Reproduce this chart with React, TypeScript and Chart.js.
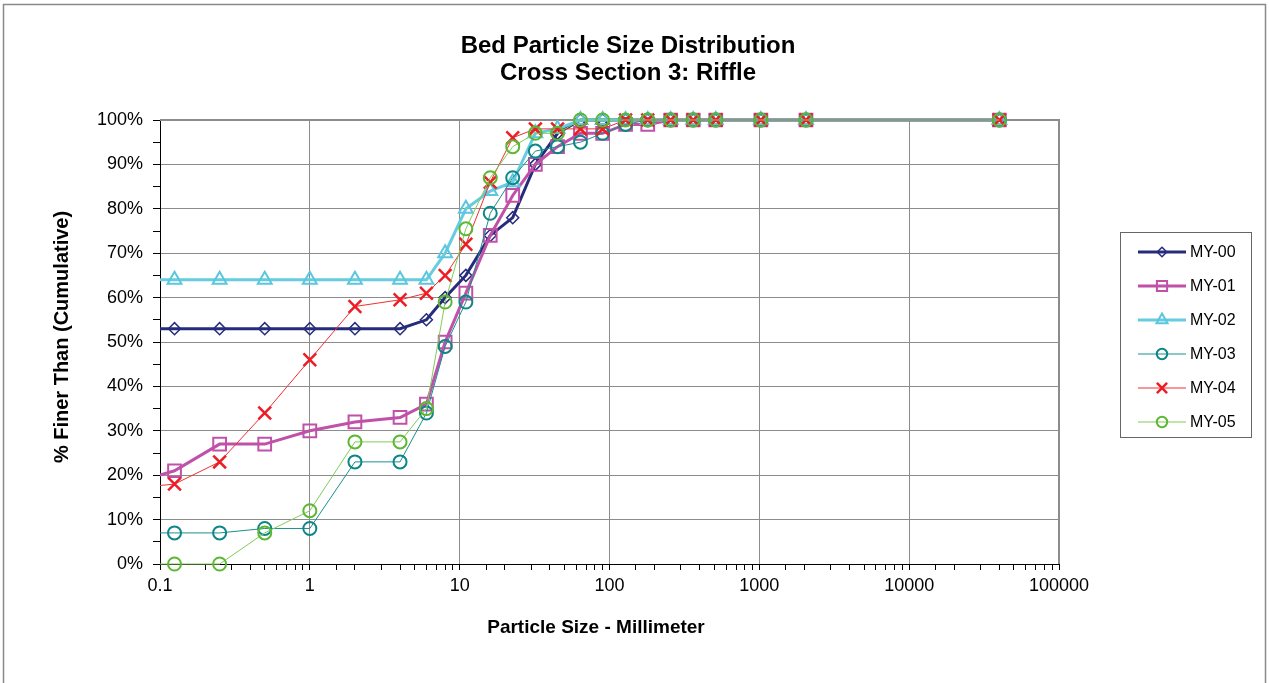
import { useEffect, useRef } from 'react';
import { Chart, registerables } from 'chart.js';

Chart.register(...registerables);

// Particle sizes (mm)
const sizesMm = [0.062, 0.125, 0.25, 0.5, 1, 2, 4, 6, 8, 11, 16, 22.6, 32, 45, 64, 90, 128, 180, 256, 362, 512, 1024, 2048, 40000];

// Cumulative % finer than
const my00 = [53, 53, 53, 53, 53, 53, 53, 55, 60, 65, 74, 78, 90, 97, 100, 100, 100, 100, 100, 100, 100, 100, 100, 100];
const my01 = [18, 21, 27, 27, 30, 32, 33, 36, 50, 61, 74, 83, 90, 94, 97, 97, 99, 99, 100, 100, 100, 100, 100, 100];
const my02 = [64, 64, 64, 64, 64, 64, 64, 64, 70, 80, 84, 86, 97, 98, 100, 100, 100, 100, 100, 100, 100, 100, 100, 100];
const my03 = [7, 7, 7, 8, 8, 23, 23, 34, 49, 59, 79, 87, 93, 94, 95, 97, 99, 100, 100, 100, 100, 100, 100, 100];
const my04 = [17, 18, 23, 34, 46, 58, 59.5, 61, 65, 72, 86, 96, 98, 98, 98, 98, 100, 100, 100, 100, 100, 100, 100, 100];
const my05 = [0, 0, 0, 7, 12, 27.5, 27.5, 35, 59, 75.5, 87, 94, 97, 97, 100, 100, 100, 100, 100, 100, 100, 100, 100, 100];

const seriesLabels = ['MY-00', 'MY-01', 'MY-02', 'MY-03', 'MY-04', 'MY-05'];
const seriesValues = [my00, my01, my02, my03, my04, my05];

const titleLines = ['Bed Particle Size Distribution', 'Cross Section 3: Riffle'];
const yTitle = '% Finer Than (Cumulative)';
const xTitle = 'Particle Size - Millimeter';

const FONT = '"Liberation Sans", Arial, Helvetica, sans-serif';

type Style = {
  line: string;
  point: string;
  width: number;
  shape: string;
  radius: number;
  pw: number;
};

const styles: Style[] = [
  { line: '#262C7C', point: '#262C7C', width: 3, shape: 'rectRot', radius: 6, pw: 1.5 },
  { line: '#C050A8', point: '#C050A8', width: 3, shape: 'rect', radius: 9, pw: 2 },
  { line: '#66CCE0', point: '#5CC6DE', width: 3, shape: 'triangle', radius: 8, pw: 2 },
  { line: '#1A9090', point: '#0E8686', width: 1, shape: 'circle', radius: 6.5, pw: 2 },
  { line: '#F03030', point: '#EE1C25', width: 1, shape: 'crossRot', radius: 9, pw: 2.5 },
  { line: '#80CC5A', point: '#5CB832', width: 1, shape: 'circle', radius: 6.5, pw: 2 },
];

const isDecade = (v: number) => {
  const l = Math.log10(v);
  return Math.abs(l - Math.round(l)) < 1e-6;
};

function drawMarker(ctx: CanvasRenderingContext2D, shape: string, x: number, y: number, r: number) {
  ctx.beginPath();
  if (shape === 'rectRot') {
    ctx.moveTo(x, y - r);
    ctx.lineTo(x + r, y);
    ctx.lineTo(x, y + r);
    ctx.lineTo(x - r, y);
    ctx.closePath();
  } else if (shape === 'rect') {
    const s = r * Math.SQRT1_2;
    ctx.rect(x - s, y - s, 2 * s, 2 * s);
  } else if (shape === 'triangle') {
    ctx.moveTo(x, y - r);
    ctx.lineTo(x + Math.cos(Math.PI / 6) * r, y + Math.sin(Math.PI / 6) * r);
    ctx.lineTo(x - Math.cos(Math.PI / 6) * r, y + Math.sin(Math.PI / 6) * r);
    ctx.closePath();
  } else if (shape === 'circle') {
    ctx.arc(x, y, r, 0, Math.PI * 2);
  } else if (shape === 'crossRot') {
    const d = r * Math.SQRT1_2;
    ctx.moveTo(x - d, y - d);
    ctx.lineTo(x + d, y + d);
    ctx.moveTo(x + d, y - d);
    ctx.lineTo(x - d, y + d);
  }
  ctx.stroke();
}

const decorPlugin = {
  id: 'decor',
  beforeDraw(chart: any) {
    const { ctx, width, height } = chart;
    ctx.save();
    ctx.fillStyle = '#ffffff';
    ctx.fillRect(0, 0, width, height);
    ctx.strokeStyle = '#8a8a8a';
    ctx.lineWidth = 1.5;
    ctx.strokeRect(3.5, 4.5, width - 7, height + 20);
    ctx.restore();
  },
  beforeDatasetsDraw(chart: any) {
    const { ctx, chartArea } = chart;
    ctx.save();
    ctx.strokeStyle = '#8c8c8c';
    ctx.lineWidth = 2;
    ctx.beginPath();
    ctx.moveTo(chartArea.left, chartArea.top);
    ctx.lineTo(chartArea.right, chartArea.top);
    ctx.lineTo(chartArea.right, chartArea.bottom);
    ctx.stroke();
    ctx.restore();
  },
  afterDraw(chart: any) {
    const { ctx } = chart;
    ctx.save();
    ctx.fillStyle = '#000';
    ctx.textAlign = 'center';
    ctx.textBaseline = 'middle';
    ctx.font = `bold 24px ${FONT}`;
    ctx.fillText(titleLines[0], 628, 46);
    ctx.fillText(titleLines[1], 628, 73);

    ctx.font = `bold 19px ${FONT}`;
    ctx.fillText(xTitle, 596, 628);
    ctx.save();
    ctx.translate(62, 337);
    ctx.rotate(-Math.PI / 2);
    ctx.font = `bold 20px ${FONT}`;
    ctx.fillText(yTitle, 0, 0);
    ctx.restore();

    // legend
    ctx.strokeStyle = '#666';
    ctx.lineWidth = 1;
    ctx.strokeRect(1120.5, 232.5, 131, 205);
    ctx.textAlign = 'left';
    ctx.font = `16px ${FONT}`;
    seriesLabels.forEach((lab, i) => {
      const st = styles[i];
      const y = 252 + i * 34;
      ctx.strokeStyle = st.line;
      ctx.lineWidth = st.width;
      ctx.beginPath();
      ctx.moveTo(1138, y);
      ctx.lineTo(1186, y);
      ctx.stroke();
      ctx.strokeStyle = st.point;
      ctx.lineWidth = st.pw;
      drawMarker(ctx, st.shape, 1162, y, st.radius * 0.8);
      ctx.fillStyle = '#000';
      ctx.fillText(lab, 1190, y + 1);
    });
    ctx.restore();
  },
};

export default function App() {
  const ref = useRef<HTMLCanvasElement | null>(null);

  useEffect(() => {
    if (!ref.current) return;
    const datasets = seriesValues.map((vals, i) => {
      const st = styles[i];
      return {
        label: seriesLabels[i],
        data: sizesMm.map((x, j) => ({ x, y: vals[j] })),
        borderColor: st.line,
        borderWidth: st.width,
        pointStyle: st.shape,
        pointRadius: st.radius,
        pointBorderColor: st.point,
        pointBackgroundColor: 'rgba(0,0,0,0)',
        pointBorderWidth: st.pw,
        tension: 0,
        fill: false,
        order: seriesValues.length - i,
        clip: { left: 0, top: 20, right: 20, bottom: 20 },
      };
    });

    const chart = new Chart(ref.current, {
      type: 'line',
      data: { datasets },
      plugins: [decorPlugin],
      options: {
        animation: false,
        responsive: false,
        devicePixelRatio: 1,
        layout: { padding: { left: 0, top: 120, right: 210, bottom: 0 } },
        plugins: {
          legend: { display: false },
          title: { display: false },
          tooltip: { enabled: false },
        },
        scales: {
          x: {
            type: 'logarithmic',
            position: 'bottom',
            min: 0.1,
            max: 100000,
            ticks: {
              autoSkip: false,
              maxRotation: 0,
              minRotation: 0,
              color: '#000',
              font: { family: FONT, size: 18 },
              padding: 5,
              callback: (v: any) => {
                const n = Number(v);
                if (!isDecade(n)) return '';
                const e = Math.round(Math.log10(n));
                return e < 0 ? Math.pow(10, e).toFixed(-e) : String(Math.pow(10, e));
              },
            },
            grid: {
              color: (c: any) => (c.tick && isDecade(c.tick.value) ? '#8c8c8c' : 'rgba(0,0,0,0)'),
              tickColor: '#000',
              tickLength: 6,
              lineWidth: 1,
            },
            border: { color: '#000', width: 1 },
            afterFit: (s: any) => {
              s.height = 119;
              s.paddingLeft = 0;
              s.paddingRight = 0;
            },
          },
          y: {
            type: 'linear',
            min: 0,
            max: 100,
            ticks: {
              stepSize: 5,
              autoSkip: false,
              color: '#000',
              font: { family: FONT, size: 18 },
              padding: 10,
              callback: (v: any) => (Number(v) % 10 === 0 ? `${v}%` : ''),
            },
            grid: {
              color: (c: any) => (c.tick && c.tick.value % 10 === 0 ? '#8c8c8c' : 'rgba(0,0,0,0)'),
              tickColor: '#000',
              tickLength: 7,
              lineWidth: 1,
            },
            border: { color: '#000', width: 1 },
            afterFit: (s: any) => {
              s.width = 160;
              s.paddingTop = 0;
              s.paddingBottom = 0;
            },
          },
        },
      } as any,
    });
    return () => chart.destroy();
  }, []);

  return (
    <div style={{ position: 'fixed', left: 0, top: 0, width: 1269, height: 683, background: '#fff' }}>
      <canvas ref={ref} width={1269} height={683} style={{ display: 'block' }} />
    </div>
  );
}
